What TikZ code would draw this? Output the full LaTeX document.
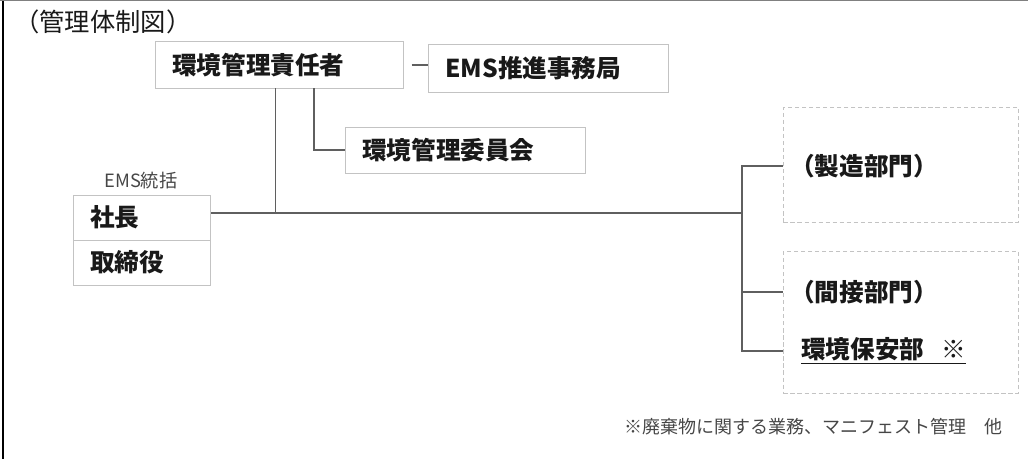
\documentclass[tikz,border=0pt]{standalone}
\usepackage{fontspec}
\setmainfont{Noto Sans CJK JP}
\usetikzlibrary{positioning}
\definecolor{linegray}{RGB}{95,95,95}
\definecolor{boxgray}{RGB}{195,195,195}
\definecolor{inkgray}{RGB}{25,25,25}
\definecolor{notegray}{RGB}{70,70,70}

\begin{document}
\begin{tikzpicture}[x=0.025cm, y=-0.025cm,
    orgbox/.style={draw=boxgray, line width=0.7pt, anchor=west, align=left,
      inner xsep=0.42cm, inner ysep=0pt, minimum height=1.15cm,
      text=inkgray, font=\fontsize{17.5}{20}\selectfont\bfseries},
    grpbox/.style={draw=boxgray, dash pattern=on 3pt off 2pt, line width=0.6pt,
      anchor=north west, inner sep=0pt, minimum width=5.875cm},
    grptext/.style={anchor=west, inner sep=0pt, text=inkgray,
      font=\fontsize{17.5}{20}\selectfont\bfseries},
    link/.style={draw=linegray, line width=1.1pt}]
\useasboundingbox (0,0) rectangle (1028,459);

% frame
\draw[black, line width=1.5pt] (3,0) -- (3,459);
\draw[gray, line width=0.8pt] (0,0.5) -- (1028,0.5);

\node[anchor=west, inner sep=0pt, text=inkgray, font=\fontsize{18}{20}\selectfont] (title) at (14,22) {（管理体制図）};

% boxes
\node[orgbox, text width=5.35cm] (mgr) at (155,65) {環境管理責任者};
\node[orgbox, text width=5.16cm, minimum height=1.175cm] (ems) at (428,68.5) {EMS推進事務局};
\node[orgbox, text width=5.16cm] (cmt) at (345,150) {環境管理委員会};
\node[orgbox, text width=2.585cm, minimum height=1.125cm] (pres) at (73,217.5) {社長};
\node[orgbox, text width=2.585cm, minimum height=1.125cm] (board) at (73,262.5) {取締役};
\node[inner sep=0pt, text=notegray, font=\fontsize{13}{15}\selectfont] (emslbl) at (141,181) {EMS統括};

% departments
\node[grpbox, minimum height=2.875cm] (prod) at (783,107) {};
\node[grpbox, minimum height=3.55cm] (ind) at (783,251) {};
\node[grptext] (prodtxt) at (790,166) {（製造部門）};
\node[grptext] (indtxt) at (790,292) {（間接部門）};
\node[grptext] (envtxt) at (801,351) {\underline{環境保安部\hspace{0.7em}※}};

% lines
\coordinate (jn) at (742,213);
\draw[link] (pres.east |- jn) -- (jn);
\draw[link] ([xshift=-0.1cm]mgr.south) -- ([xshift=-0.1cm]mgr.south |- jn);
\draw[link] ([xshift=0.86cm]mgr.south) |- (cmt.west);
\draw[link] ([xshift=0.2cm]mgr.east) -- (mgr.east -| ems.west);
\draw[link] (prod.west |- prodtxt) -| (jn |- envtxt) -- (ind.west |- envtxt);
\draw[link] (jn |- indtxt) -- (ind.west |- indtxt);

\node[anchor=east, inner sep=0pt, text=notegray, font=\fontsize{12.8}{15}\selectfont] (note) at (1003,427) {※廃棄物に関する業務、マニフェスト管理　他};
\end{tikzpicture}
\end{document}
